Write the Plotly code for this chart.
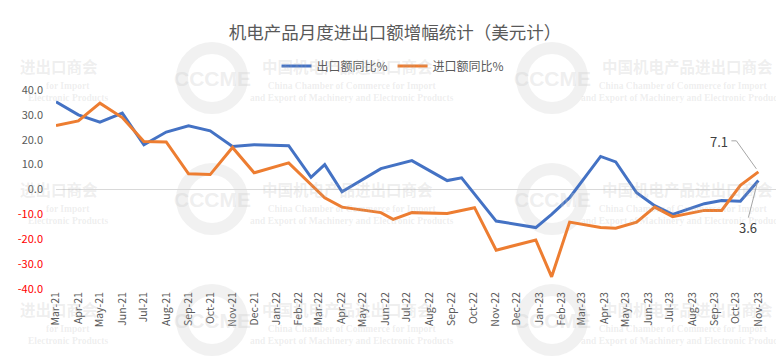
import plotly.graph_objects as go
import pandas as pd

# ---------------- data ----------------
title_text = "机电产品月度进出口额增幅统计（美元计）"
series_names = ["出口额同比%", "进口额同比%"]

export_dates = [
    "2021-03-01", "2021-04-01", "2021-05-01", "2021-06-01", "2021-07-01", "2021-08-01",
    "2021-09-01", "2021-10-01", "2021-11-01", "2021-12-01", "2022-01-18", "2022-02-18",
    "2022-03-09", "2022-04-02", "2022-05-26", "2022-07-08", "2022-08-26", "2022-09-15",
    "2022-11-02", "2022-12-27", "2023-01-18", "2023-02-12", "2023-03-27", "2023-04-17",
    "2023-05-16", "2023-06-10", "2023-07-05", "2023-08-18", "2023-09-11", "2023-10-07",
    "2023-11-01",
]
export_values = [
    35.3, 30.0, 27.1, 30.7, 18.0, 23.1,
    25.6, 23.6, 17.3, 18.0, 17.6, 4.9,
    10.0, -0.9, 8.4, 11.6, 3.6, 4.7,
    -12.7, -15.3, -10.0, -3.3, 13.3, 11.1,
    -1.3, -6.5, -10.0, -5.7, -4.4, -4.7,
    3.6,
]

import_dates = [
    "2021-03-01", "2021-04-01", "2021-05-01", "2021-06-01", "2021-07-01", "2021-08-01",
    "2021-09-01", "2021-10-01", "2021-11-01", "2021-12-01", "2022-01-18", "2022-03-09",
    "2022-04-02", "2022-05-26", "2022-06-12", "2022-07-08", "2022-08-26", "2022-10-03",
    "2022-11-02", "2022-12-27", "2023-01-18", "2023-02-12", "2023-03-27", "2023-04-17",
    "2023-05-16", "2023-06-10", "2023-07-05", "2023-08-18", "2023-09-11", "2023-10-07",
    "2023-11-01",
]
import_values = [
    25.7, 27.6, 34.7, 28.9, 19.3, 19.1,
    6.3, 6.0, 16.9, 6.7, 10.7, -3.3,
    -7.1, -9.3, -12.0, -9.3, -9.6, -7.3,
    -24.4, -20.3, -35.1, -13.1, -15.3, -15.6,
    -13.1, -7.1, -10.9, -8.4, -8.4, 1.7,
    7.1,
]

tick_months = pd.date_range("2021-03-01", "2023-11-01", freq="MS")
tick_labels = [d.strftime("%b-%y") for d in tick_months]
y_ticks = [40, 30, 20, 10, 0, -10, -20, -30, -40]

# ---------------- styling ----------------
BLUE = "#4472C4"
ORANGE = "#ED7D31"
TXT = "#595959"
FONT = "Noto Sans CJK SC"

# the page body keeps its default 8px margin, so the figure is laid out
# in page pixels shifted by OFF
OFF = 8
W, H = 784 - OFF, 360 - OFF
PLOT_L, PLOT_R, PLOT_T, PLOT_B = 56, 780, 90, 289   # page pixels
ML = PLOT_L - OFF
MR = W - (PLOT_R - OFF)
MT = PLOT_T - OFF
MB = H - (PLOT_B - OFF)
PW, PH = W - ML - MR, H - MT - MB


def px(x):
    return (x - PLOT_L) / PW


def py(y):
    return (PLOT_B - y) / PH


fig = go.Figure()
fig.add_trace(go.Scatter(x=export_dates, y=export_values, mode="lines",
                         name=series_names[0],
                         line=dict(color=BLUE, width=3)))
fig.add_trace(go.Scatter(x=import_dates, y=import_values, mode="lines",
                         name=series_names[1],
                         line=dict(color=ORANGE, width=3)))

y_ticktext = []
for v in y_ticks:
    s = f"{v:.1f}"
    if v < 0:
        s = f"<span style='color:#FF0000'>{s}</span>"
    y_ticktext.append(s)

# ---------------- watermark (background decoration) ----------------
annotations = []
shapes = []
wm_col = "rgba(170,170,170,0.2)"
CN_FONT = dict(family=FONT, size=15.5, color=wm_col)
EN_FONT = dict(family="Liberation Serif", size=9.5, color=wm_col)
cn_wm = "<b>中国机电产品进出口商会</b>"
en_wm = "<b>China Chamber of Commerce for Import<br>and Export of Machinery and Electronic Products</b>"


def wm(x, y, text, font, anchor="center"):
    annotations.append(dict(x=px(x), y=py(y), xref="paper", yref="paper",
                            xanchor=anchor, yanchor="middle", text=text,
                            showarrow=False, font=font))


for cy in [66, 189, 309]:
    # left column: only its right-hand part is visible in the reference
    wm(100, cy, "<b>进出口商会</b>", CN_FONT, "right")
    wm(92, cy + 20, "<b>for Import</b>", EN_FONT, "right")
    wm(110, cy + 32, "<b>Electronic Products</b>", EN_FONT, "right")
    # middle and right columns
    wm(347, cy, cn_wm, CN_FONT)
    wm(352, cy + 26, en_wm, EN_FONT)
    wm(687, cy, cn_wm, CN_FONT)
    wm(683, cy + 26, en_wm, EN_FONT)

for lx in [212, 552]:
    for ly in [78, 199, 320]:
        shapes.append(dict(type="circle", xref="paper", yref="paper", layer="below",
                           x0=px(lx - 30), x1=px(lx + 30), y0=py(ly + 30), y1=py(ly - 30),
                           line=dict(color="rgba(215,215,215,0.35)", width=12)))
        wm(lx, ly, "<b>CCCME</b>",
           dict(family="Liberation Sans", size=21, color="rgba(200,200,200,0.3)"))

# ---------------- end labels with leader lines ----------------
LABEL_FONT = dict(family=FONT, size=13, color="#404040")
annotations.append(dict(x=import_dates[-1], y=import_values[-1], xref="x", yref="y",
                        text=f"{import_values[-1]:.1f}", showarrow=False,
                        xanchor="center", yanchor="middle", xshift=-39, yshift=30,
                        font=LABEL_FONT))
annotations.append(dict(x=export_dates[-1], y=export_values[-1], xref="x", yref="y",
                        text=f"{export_values[-1]:.1f}", showarrow=False,
                        xanchor="center", yanchor="middle", xshift=-10, yshift=-47,
                        font=LABEL_FONT))
shapes.append(dict(type="path", xref="x", yref="y",
                   xsizemode="pixel", ysizemode="pixel",
                   xanchor=import_dates[-1], yanchor=import_values[-1],
                   path="M-27,31 L-22,31 L-2,3",
                   line=dict(color="#A6A6A6", width=1)))
shapes.append(dict(type="path", xref="x", yref="y",
                   xsizemode="pixel", ysizemode="pixel",
                   xanchor=export_dates[-1], yanchor=export_values[-1],
                   path="M-10,-37 L-1,-2",
                   line=dict(color="#A6A6A6", width=1)))

fig.update_layout(
    width=W, height=H,
    margin=dict(l=ML, r=MR, t=MT, b=MB, autoexpand=False),
    paper_bgcolor="white", plot_bgcolor="white",
    font=dict(family=FONT, color=TXT, size=11),
    title=dict(text=title_text, x=(395 - OFF) / W, xanchor="center",
               y=1 - (33 - OFF) / H, yanchor="middle",
               font=dict(family=FONT, size=17.5, color=TXT)),
    legend=dict(orientation="h", x=px(393), xanchor="center", y=py(66), yanchor="middle",
                font=dict(family=FONT, size=12, color=TXT), itemwidth=30,
                bgcolor="rgba(0,0,0,0)"),
    xaxis=dict(type="date", range=["2021-03-01", "2023-12-01"],
               tickvals=list(tick_months), ticktext=tick_labels, tickangle=-90,
               showgrid=False, zeroline=False, showline=False, ticks="",
               automargin=False,
               tickfont=dict(family=FONT, size=10.5, color=TXT)),
    yaxis=dict(range=[-40, 40], tickvals=y_ticks, ticktext=y_ticktext,
               showgrid=False, zeroline=True, zerolinecolor="#D9D9D9", zerolinewidth=1,
               showline=False, ticks="", ticklabelstandoff=12, automargin=False,
               tickfont=dict(family=FONT, size=11, color=TXT)),
    annotations=annotations,
    shapes=shapes,
)

fig.write_html("out.html")
